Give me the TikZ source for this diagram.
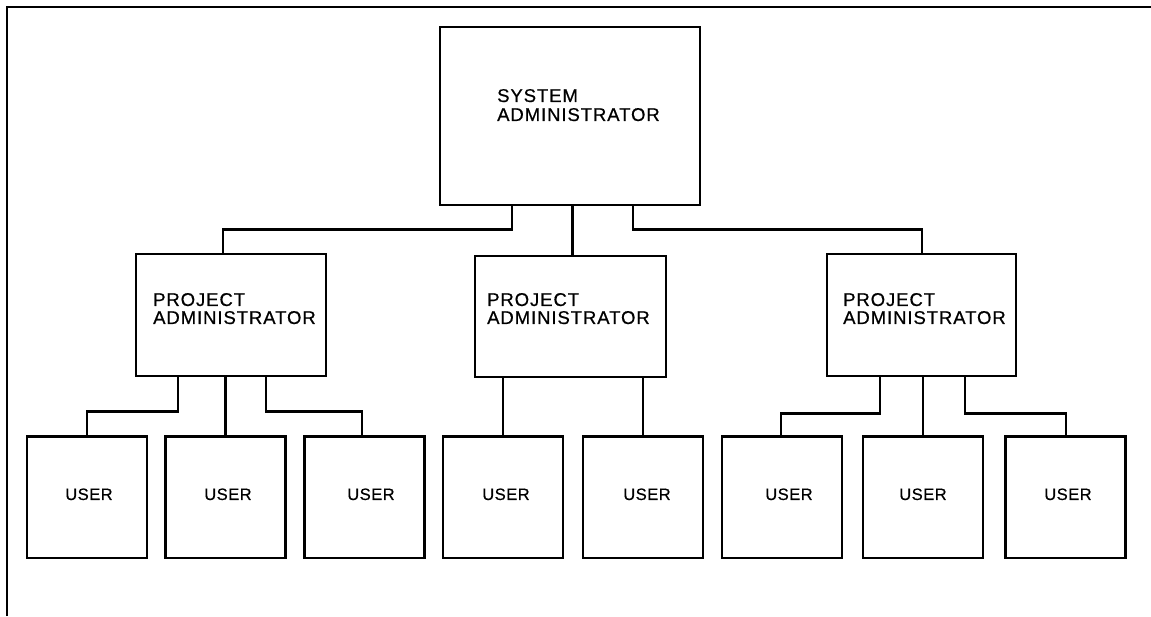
\documentclass[tikz,border=0pt]{standalone}
\usepackage{fontspec}
\newfontfamily\lblfont{Liberation Sans}[LetterSpace=5,FakeBold=0.6]
\newfontfamily\userfont{Liberation Sans}[LetterSpace=3,FakeBold=0.6]
\begin{document}
\begin{tikzpicture}[x=1pt,y=1pt,
  box/.style={draw, line width=2.8pt, inner sep=0pt},
  conn/.style={line width=2.8pt},
  frameline/.style={line width=2pt},
  lbl/.style={font=\lblfont\fontsize{18.5}{19}\selectfont, inner sep=0pt},
  ulbl/.style={font=\userfont\fontsize{16.5}{19}\selectfont, inner sep=0pt}]
\useasboundingbox (0,0) rectangle (1151,616);
% frame (top and left only)
\coordinate (fbl) at (7,0);
\coordinate (ftl) at (7,609);
\coordinate (ftr) at (1151,609);
\draw[frameline] (fbl) -- (ftl) -- (ftr);
% system administrator
\node[box, minimum width=260, minimum height=178] (sys) at (570,500) {};
\node[lbl, anchor=base west] (sysA) at (497,514) {SYSTEM};
\node[lbl, anchor=base west] (sysB) at (497,495) {ADMINISTRATOR};
% project administrators
\node[box, minimum width=190, minimum height=122] (p1) at (231,301) {};
\node[box, minimum width=191, minimum height=121] (p2) at (570.5,299.5) {};
\node[box, minimum width=189, minimum height=122] (p3) at (921.5,301) {};
\node[lbl, anchor=base west] (p1A) at (153,310) {PROJECT};
\node[lbl, anchor=base west] (p1B) at (153,292) {ADMINISTRATOR};
\node[lbl, anchor=base west] (p2A) at (487,310) {PROJECT};
\node[lbl, anchor=base west] (p2B) at (487,292) {ADMINISTRATOR};
\node[lbl, anchor=base west] (p3A) at (843,310) {PROJECT};
\node[lbl, anchor=base west] (p3B) at (843,292) {ADMINISTRATOR};
% users
\foreach \n/\x/\tx in {1/87/89,2/225.5/228,3/364.5/371,4/503/506,5/643/647,6/782/789,7/923/923,8/1065.5/1068}{
  \node[box, minimum width=120, minimum height=121.5] (u\n) at (\x,118.75) {};
  \node[ulbl, anchor=base] (u\n t) at (\tx,116) {USER};
}
% connectors system -> project
\draw[conn] ([xshift=-58pt]sys.south) -- ++(0,-23) -| ([xshift=-8pt]p1.north);
\draw[conn] ([xshift=2pt]p2.north |- sys.south) -- ([xshift=2pt]p2.north);
\draw[conn] ([xshift=63pt]sys.south) -- ++(0,-23) -| ([xshift=0.5pt]p3.north);
% project 1 -> users
\draw[conn] ([xshift=-53pt]p1.south) -- ++(0,-34) -| (u1.north);
\draw[conn] (p1.south -| u2.north) -- (u2.north);
\draw[conn] ([xshift=35pt]p1.south) -- ++(0,-34) -| ([xshift=-2.5pt]u3.north);
% project 2 -> users
\draw[conn] (p2.south -| u4.north) -- (u4.north);
\draw[conn] (p2.south -| u5.north) -- (u5.north);
% project 3 -> users
\draw[conn] ([xshift=-41.5pt]p3.south) -- ++(0,-36) -| ([xshift=-1pt]u6.north);
\draw[conn] (p3.south -| u7.north) -- (u7.north);
\draw[conn] ([xshift=43.5pt]p3.south) -- ++(0,-36) -| ([xshift=0.5pt]u8.north);
\end{tikzpicture}
\end{document}
